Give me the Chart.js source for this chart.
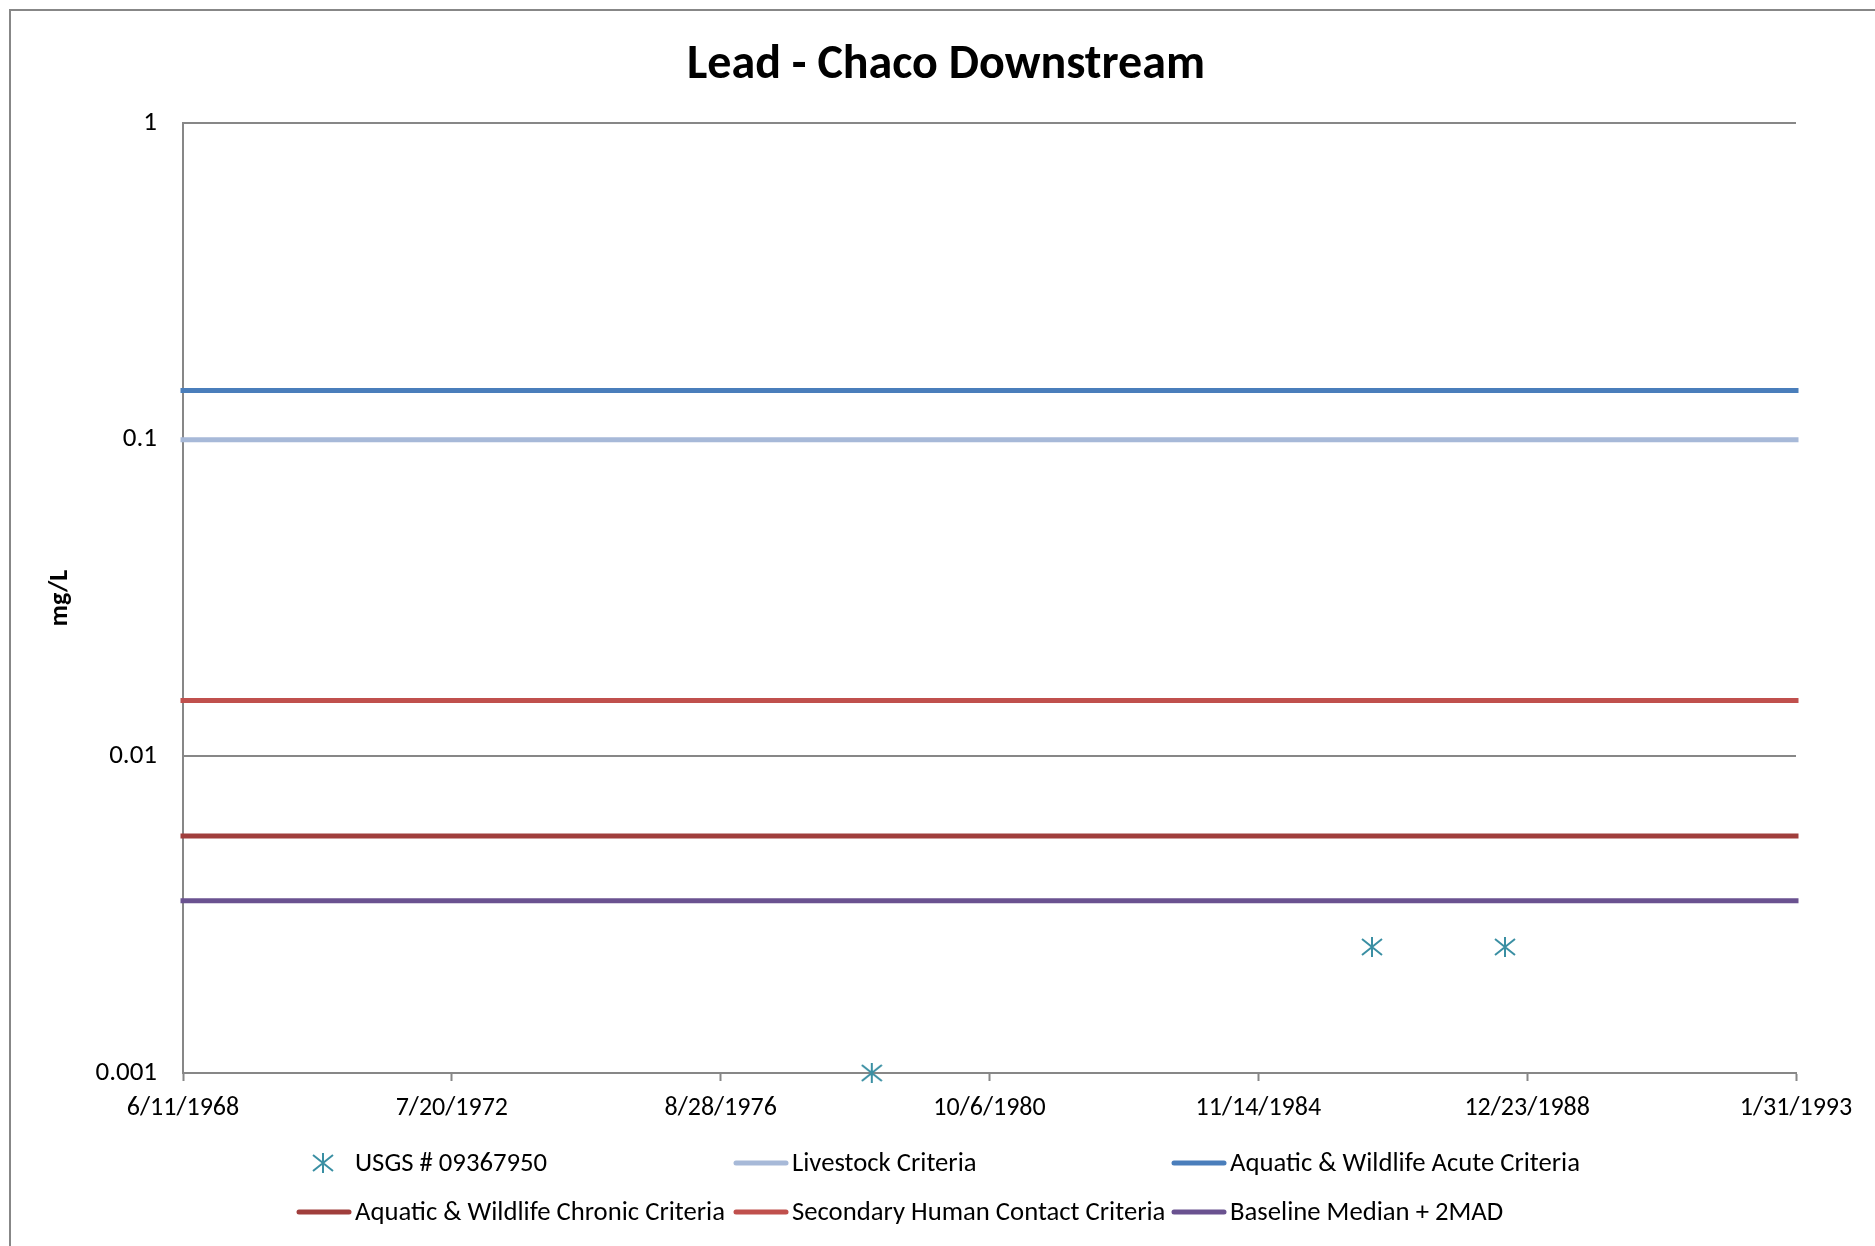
<!DOCTYPE html>
<html>
<head>
<meta charset="utf-8">
<script src="https://cdn.jsdelivr.net/npm/chart.js@4/dist/chart.umd.min.js"></script>
<style>
  html, body { margin: 0; padding: 0; background: #fff; }
  #wrap { width: 1875px; height: 1246px; position: relative; }
</style>
</head>
<body>
<div id="wrap"><canvas id="chart" width="1875" height="1246"></canvas></div>
<script>
// x axis runs on Excel day serials, labels shown as M/D/YYYY
const xTickLabels = ['6/11/1968', '7/20/1972', '8/28/1976', '10/6/1980', '11/14/1984', '12/23/1988', '1/31/1993'];
const yTickValues = [0.001, 0.01, 0.1, 1];
const yTickLabels = ['0.001', '0.01', '0.1', '1'];

// USGS samples
const usgsDates = ['12/19/1978', '8/10/1986', '8/21/1988'];
const usgsValues = [0.001, 0.0025, 0.0025];

// criteria lines (constant over the whole period)
const criteriaNames = ['Livestock Criteria', 'Aquatic & Wildlife Acute Criteria', 'Aquatic & Wildlife Chronic Criteria', 'Secondary Human Contact Criteria', 'Baseline Median + 2MAD'];
const criteriaValues = [0.1, 0.143, 0.0056, 0.015, 0.0035];
const criteriaColors = ['#a7b9d8', '#4a7ebb', '#a03e3c', '#c0504d', '#6a5290'];

const FONT = 'Carlito, Calibri, Lato, sans-serif';
const GRAY = '#878787';

function toSerial(s) {
  const [m, d, y] = s.split('/').map(Number);
  return (Date.UTC(y, m - 1, d) - Date.UTC(1899, 11, 30)) / 86400000;
}

const xTicks = xTickLabels.map(toSerial);
const xMin = xTicks[0];
const xMax = xTicks[xTicks.length - 1];

// star marker like Excel's: vertical bar + X
function makeStar(color) {
  const c = document.createElement('canvas');
  c.width = 22; c.height = 22;
  const g = c.getContext('2d');
  g.strokeStyle = color;
  g.lineWidth = 2;
  g.beginPath();
  g.moveTo(11, 1); g.lineTo(11, 21);
  g.moveTo(1, 3); g.lineTo(21, 19);
  g.moveTo(1, 19); g.lineTo(21, 3);
  g.stroke();
  return c;
}
const star = makeStar('#3a8fa3');

const datasets = [{
  label: 'USGS # 09367950',
  type: 'scatter',
  data: usgsDates.map((d, i) => ({ x: toSerial(d), y: usgsValues[i] })),
  pointStyle: star,
  pointRadius: 11,
  borderColor: '#3a8fa3',
  backgroundColor: '#3a8fa3',
  showLine: false,
  clip: false
}];
criteriaNames.forEach((name, i) => {
  datasets.push({
    label: name,
    type: 'line',
    data: [{ x: xMin, y: criteriaValues[i] }, { x: xMax, y: criteriaValues[i] }],
    borderColor: criteriaColors[i],
    backgroundColor: criteriaColors[i],
    borderWidth: 5,
    borderCapStyle: 'square',
    pointRadius: 0,
    clip: false
  });
});

// legend layout: [dataset index, column, row]
const legendOrder = [[0, 0, 0], [1, 1, 0], [2, 2, 0], [3, 0, 1], [4, 1, 1], [5, 2, 1]];
const legendCols = [297, 734, 1172];
const legendRows = [1163, 1212];

const extras = {
  id: 'extras',
  beforeDraw(chart) {
    const ctx = chart.ctx;
    ctx.save();
    ctx.fillStyle = '#fff';
    ctx.fillRect(0, 0, chart.width, chart.height);
    // outer frame (only left and top show)
    ctx.strokeStyle = GRAY;
    ctx.lineWidth = 2;
    ctx.beginPath();
    ctx.moveTo(10, chart.height);
    ctx.lineTo(10, 10);
    ctx.lineTo(chart.width, 10);
    ctx.stroke();
    ctx.restore();
  },
  afterDraw(chart) {
    const ctx = chart.ctx;
    ctx.save();
    ctx.fillStyle = '#000';
    ctx.textAlign = 'center';
    ctx.textBaseline = 'alphabetic';
    ctx.font = 'bold 48px ' + FONT;
    ctx.fillText('Lead - Chaco Downstream', 946, 78);

    ctx.font = '26.7px ' + FONT;
    ctx.textAlign = 'left';
    ctx.textBaseline = 'middle';
    legendOrder.forEach(([di, col, row]) => {
      const ds = chart.data.datasets[di];
      const x0 = legendCols[col], y = legendRows[row];
      if (di === 0) {
        ctx.drawImage(star, x0 + 26 - 11, y - 11);
      } else {
        ctx.strokeStyle = ds.borderColor;
        ctx.lineWidth = 5;
        ctx.lineCap = 'round';
        ctx.beginPath();
        ctx.moveTo(x0 + 2, y);
        ctx.lineTo(x0 + 52, y);
        ctx.stroke();
      }
      ctx.fillStyle = '#000';
      ctx.fillText(ds.label, x0 + 58, y + 1);
    });
    ctx.restore();
  }
};

new Chart(document.getElementById('chart').getContext('2d'), {
  type: 'scatter',
  data: { datasets },
  plugins: [extras],
  options: {
    responsive: false,
    animation: false,
    layout: { padding: { top: 123, right: 79, bottom: 113, left: 0 } },
    plugins: {
      legend: { display: false },
      title: { display: false },
      tooltip: { enabled: false }
    },
    scales: {
      x: {
        type: 'linear',
        min: xMin,
        max: xMax,
        afterBuildTicks: (scale) => { scale.ticks = xTicks.map(v => ({ value: v })); },
        afterFit: (scale) => { scale.height = 60; },
        grid: { drawOnChartArea: false, drawTicks: true, tickLength: 8, tickColor: GRAY, tickWidth: 2 },
        border: { color: GRAY, width: 2 },
        ticks: {
          autoSkip: false,
          maxRotation: 0,
          padding: 12,
          color: '#000',
          font: { family: FONT, size: 26 },
          callback: (v) => xTickLabels[xTicks.indexOf(v)] || ''
        }
      },
      y: {
        type: 'logarithmic',
        min: 0.001,
        max: 1,
        afterBuildTicks: (scale) => { scale.ticks = yTickValues.map(v => ({ value: v })); },
        afterFit: (scale) => { scale.width = 183; },
        grid: { color: GRAY, lineWidth: 2, drawTicks: false },
        border: { color: GRAY, width: 2 },
        ticks: {
          padding: 26,
          color: '#000',
          font: { family: FONT, size: 27 },
          callback: (v) => yTickLabels[yTickValues.indexOf(v)] || ''
        },
        title: {
          display: true,
          text: 'mg/L',
          color: '#000',
          font: { family: FONT, size: 26, weight: 'bold' },
          padding: { top: 45, bottom: 0 }
        }
      }
    }
  }
});
</script>
</body>
</html>
